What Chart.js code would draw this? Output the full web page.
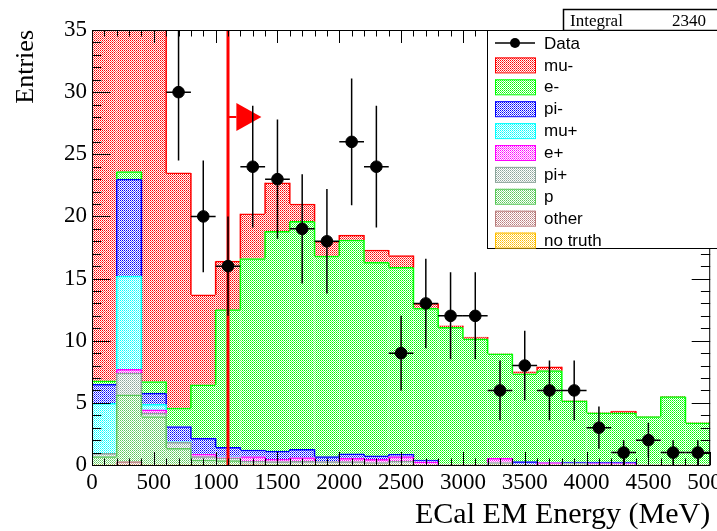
<!DOCTYPE html>
<html>
<head>
<meta charset="utf-8">
<script src="https://cdn.jsdelivr.net/npm/chart.js@4.4.1/dist/chart.umd.min.js"></script>
<style>
  body { margin: 0; background: #fff; }
  #wrap { width: 717px; height: 531px; position: relative; }
</style>
</head>
<body>
<div id="wrap"><canvas id="myChart"></canvas></div>
<script>
// 200 MeV bins, 0 - 5000 MeV
var binCentres = [100, 300, 500, 700, 900, 1100, 1300, 1500, 1700, 1900, 2100, 2300, 2500,
                  2700, 2900, 3100, 3300, 3500, 3700, 3900, 4100, 4300, 4500, 4700, 4900];
var binHalf = 100;

var dataCounts = [null, null, null, 30, 20, 16, 24, 23, 19, 18, 26, 24, 9, 13, 12, 12, 6, 8, 6, 6, 3, 1, 2, 1, 1];
var dataErrors = [null, null, null, 5.5, 4.5, 4, 4.9, 4.8, 4.4, 4.2, 5.1, 4.9, 3, 3.6, 3.5, 3.5, 2.4, 2.8, 2.4, 2.4, 1.7, 1, 1.4, 1, 1];

// MC truth components (stacked, bottom first)
var noTruth = [0, 0, 0, 0, 0, 0, 0, 0, 0, 0, 0, 0, 0, 0, 0, 0, 0, 0, 0, 0, 0, 0, 0, 0, 0];
var other   = [0, 0.27, 0, 0, 0, 0, 0.05, 0, 0, 0, 0, 0, 0, 0, 0, 0, 0, 0, 0, 0, 0, 0, 0, 0, 0];
var proton  = [0.67, 5.38, 3.9, 1.34, 0.4, 0.35, 0.05, 0.05, 0, 0, 0, 0, 0, 0, 0, 0, 0, 0, 0, 0, 0, 0, 0, 0, 0];
var piPlus  = [0.27, 1.75, 0.27, 0.48, 0.27, 0.2, 0.2, 0.22, 0.3, 0.27, 0.27, 0.2, 0.32, 0, 0, 0, 0.2, 0, 0, 0.12, 0, 0, 0, 0, 0];
var ePlus   = [0, 0.3, 0.26, 0.03, 0.19, 0.1, 0.37, 0.19, 0.29, 0, 0.27, 0.26, 0.35, 0.25, 0, 0, 0.34, 0, 0.19, 0, 0.12, 0.12, 0, 0, 0];
var muPlus  = [4.03, 7.5, 0.46, 0.05, 0, 0.05, 0, 0, 0, 0, 0, 0, 0, 0, 0, 0, 0, 0, 0, 0, 0, 0, 0, 0, 0];
var piMinus = [1.53, 7.8, 0.89, 1.2, 1.29, 0.72, 0.54, 0.67, 0.67, 0.4, 0.35, 0.27, 0.19, 0.15, 0, 0, 0, 0.27, 0, 0.12, 0.12, 0.12, 0, 0, 0];
var eMinus  = [0.27, 0.6, 0.94, 1.47, 4.3, 11.08, 15.4, 17.67, 18.34, 16.13, 17.21, 15.57, 15.04, 12.2, 11.07, 10.16, 8.41, 7.07, 7.41, 4.92, 3.96, 3.95, 3.9, 5.5, 3.4];
var muMinus = [40, 20, 40, 18.93, 7.25, 3.9, 3.6, 3.9, 1.4, 1.2, 0.4, 1.0, 0.95, 0.4, 0.13, 0.14, 0, 0.16, 0.3, 0, 0, 0.14, 0, 0, 0];

var cutValue = 1100;
var arrowY = 28;
var arrowEnd = 1370;

var canvas = document.getElementById('myChart');
var cctx = canvas.getContext('2d');

// ROOT-like dotted fill: checkerboard of colour (two shades) and white
function dots(color, light) {
  var c = document.createElement('canvas');
  c.width = 2; c.height = 2;
  var g = c.getContext('2d');
  g.fillStyle = '#fff';
  g.fillRect(0, 0, 2, 2);
  g.fillStyle = color;
  g.fillRect(0, 0, 1, 1);
  g.fillStyle = light;
  g.fillRect(1, 1, 1, 1);
  return cctx.createPattern(c, 'repeat');
}

var components = [
  { label: 'no truth', values: noTruth, color: 'rgb(255,190,0)',   light: 'rgb(255,215,90)' },
  { label: 'other',    values: other,   color: 'rgb(185,125,125)', light: 'rgb(210,165,165)' },
  { label: 'p',        values: proton,  color: 'rgb(90,200,90)',   light: 'rgb(140,220,140)' },
  { label: 'pi+',      values: piPlus,  color: 'rgb(140,165,155)', light: 'rgb(180,198,190)' },
  { label: 'e+',       values: ePlus,   color: 'rgb(255,0,255)',   light: 'rgb(255,90,255)' },
  { label: 'mu+',      values: muPlus,  color: 'rgb(0,255,255)',   light: 'rgb(90,255,255)' },
  { label: 'pi-',      values: piMinus, color: 'rgb(0,0,255)',     light: 'rgb(90,90,255)' },
  { label: 'e-',       values: eMinus,  color: 'rgb(0,255,0)',     light: 'rgb(90,255,90)' },
  { label: 'mu-',      values: muMinus, color: 'rgb(255,0,0)',     light: 'rgb(255,90,90)' }
];

var datasets = components.map(function(c) {
  return {
    type: 'bar',
    label: c.label,
    data: binCentres.map(function(x, i) { return { x: x, y: c.values[i] }; }),
    backgroundColor: dots(c.color, c.light),
    borderColor: c.color,
    borderWidth: { top: 1.5, left: 0, right: 0, bottom: 0 },
    borderSkipped: 'start',
    barPercentage: 1,
    categoryPercentage: 1,
    stack: 'mc'
  };
});

datasets.push({
  type: 'line',
  label: 'Data',
  data: binCentres.map(function(x, i) { return { x: x, y: dataCounts[i] }; }),
  showLine: false,
  pointRadius: 5.8,
  pointHoverRadius: 5.8,
  pointBackgroundColor: '#000',
  pointBorderColor: '#000',
  borderColor: '#000',
  stack: 'data',
  order: -1
});

// step outlines between bins, cut line, error bars: drawn just before the data markers
var errorBars = {
  id: 'errorBars',
  beforeDatasetDraw: function(chart, args) {
    if (chart.data.datasets[args.index].label !== 'Data') return;
    var g = chart.ctx, a = chart.chartArea;
    var xs = chart.scales.x, ys = chart.scales.y;
    g.save();
    g.beginPath();
    g.rect(a.left, a.top, a.right - a.left, a.bottom - a.top);
    g.clip();

    // vertical parts of each layer's step outline
    g.lineWidth = 1.5;
    chart.data.datasets.forEach(function(d, di) {
      if (d.type !== 'bar') return;
      var bars = chart.getDatasetMeta(di).data;
      g.strokeStyle = d.borderColor;
      g.beginPath();
      for (var i = 1; i < bars.length; i++) {
        var p = bars[i - 1], q = bars[i];
        var top = Math.min(p.y, q.y);
        var bot = Math.min(Math.max(p.y, q.y), p.base, q.base);
        if (bot - top > 0.5) {
          var ex = xs.getPixelForValue(binCentres[i] - binHalf);
          g.moveTo(ex, top); g.lineTo(ex, bot);
        }
      }
      g.stroke();
    });

    // cut line and arrow
    var cx = xs.getPixelForValue(cutValue);
    g.strokeStyle = 'rgb(255,0,0)';
    g.lineWidth = 3;
    g.beginPath();
    g.moveTo(cx, a.bottom);
    g.lineTo(cx, a.top);
    g.stroke();
    var ay = ys.getPixelForValue(arrowY);
    var tip = xs.getPixelForValue(arrowEnd);
    g.lineWidth = 2;
    g.beginPath();
    g.moveTo(cx, ay);
    g.lineTo(tip - 25, ay);
    g.stroke();
    g.fillStyle = 'rgb(255,0,0)';
    g.beginPath();
    g.moveTo(tip - 25, ay - 14);
    g.lineTo(tip, ay);
    g.lineTo(tip - 25, ay + 14);
    g.closePath();
    g.fill();

    g.strokeStyle = '#000';
    g.lineWidth = 1.5;
    binCentres.forEach(function(c, i) {
      var v = dataCounts[i];
      if (v === null) return;
      var px = xs.getPixelForValue(c), py = ys.getPixelForValue(v);
      g.beginPath();
      g.moveTo(xs.getPixelForValue(c - binHalf), py);
      g.lineTo(xs.getPixelForValue(c + binHalf), py);
      g.moveTo(px, ys.getPixelForValue(v + dataErrors[i]));
      g.lineTo(px, ys.getPixelForValue(Math.max(0, v - dataErrors[i])));
      g.stroke();
    });
    g.restore();
  }
};

// ROOT frame with inner ticks on all four sides
var rootFrame = {
  id: 'rootFrame',
  afterDatasetsDraw: function(chart) {
    var g = chart.ctx, a = chart.chartArea;
    var xs = chart.scales.x, ys = chart.scales.y;
    g.save();
    g.strokeStyle = '#000';
    g.lineWidth = 1;
    g.strokeRect(a.left + 0.5, a.top + 0.5, a.right - a.left - 1, a.bottom - a.top);
    g.beginPath();
    for (var v = 0; v <= xs.max; v += 100) {
      var px = Math.round(xs.getPixelForValue(v)) + 0.5;
      var len = (v % 500 === 0) ? 13 : 6.5;
      g.moveTo(px, a.bottom); g.lineTo(px, a.bottom - len);
      g.moveTo(px, a.top); g.lineTo(px, a.top + len);
    }
    for (var w = 0; w <= ys.max; w += 1) {
      var py = Math.round(ys.getPixelForValue(w)) + 0.5;
      var l2 = (w % 5 === 0) ? 18.5 : 9.3;
      g.moveTo(a.left, py); g.lineTo(a.left + l2, py);
      g.moveTo(a.right, py); g.lineTo(a.right - l2, py);
    }
    g.stroke();
    g.restore();
  }
};

// legend + stats box in the ROOT style
var rootLegend = {
  id: 'rootLegend',
  afterDraw: function(chart) {
    var g = chart.ctx;
    g.save();
    // stats box
    g.fillStyle = '#fff';
    g.fillRect(563, 9, 160, 21);
    g.strokeStyle = '#000';
    g.lineWidth = 1.5;
    g.strokeRect(563.5, 9.5, 160, 21);
    g.fillStyle = '#000';
    g.font = '17px "Liberation Serif"';
    g.textBaseline = 'alphabetic';
    g.textAlign = 'left';
    g.fillText('Integral', 570, 26);
    g.textAlign = 'right';
    g.fillText('2340', 706, 26);

    // legend box
    g.fillStyle = '#fff';
    g.fillRect(487, 31, 240, 217);
    g.lineWidth = 1;
    g.strokeRect(487.5, 30.5, 240, 218);

    var rowY = 43, step = 21.9;
    g.font = '17px "Liberation Sans"';
    g.textAlign = 'left';
    g.textBaseline = 'middle';
    // data entry
    g.strokeStyle = '#000';
    g.lineWidth = 1.5;
    g.beginPath();
    g.moveTo(495, rowY); g.lineTo(535, rowY);
    g.stroke();
    g.fillStyle = '#000';
    g.beginPath();
    g.arc(515, rowY, 5, 0, Math.PI * 2);
    g.fill();
    g.fillText('Data', 544, rowY + 1);

    var bars = chart.data.datasets.filter(function(d) { return d.type === 'bar'; }).reverse();
    bars.forEach(function(d, k) {
      var y = rowY + step * (k + 1);
      g.fillStyle = d.backgroundColor;
      g.fillRect(495, y - 7.5, 40, 15);
      g.strokeStyle = d.borderColor;
      g.lineWidth = 1;
      g.strokeRect(495.5, y - 7, 40, 15);
      g.fillStyle = '#000';
      g.fillText(d.label, 544, y + 1);
    });
    g.restore();
  }
};

Chart.defaults.font.family = '"Liberation Serif"';
Chart.defaults.color = '#000';

new Chart(canvas, {
  type: 'bar',
  data: { datasets: datasets },
  options: {
    responsive: true,
    maintainAspectRatio: false,
    animation: false,
    layout: { padding: { top: 30, right: 3, left: 0, bottom: 0 } },
    plugins: {
      legend: { display: false },
      tooltip: { enabled: false }
    },
    scales: {
      x: {
        type: 'linear',
        stacked: true,
        offset: false,
        min: 0,
        max: 5000,
        grid: { display: false, drawTicks: false, offset: false },
        border: { display: false },
        ticks: {
          stepSize: 500, autoSkip: false, maxRotation: 0, padding: 4, font: { size: 23 },
          callback: function(v) { return String(v); }
        },
        title: { display: true, text: 'ECal EM Energy (MeV)', align: 'end', font: { size: 30 }, padding: { top: 0, bottom: -2 } },
        afterFit: function(s) { s.height = 66; s.paddingLeft = 0; s.paddingRight = 0; }
      },
      y: {
        stacked: true,
        min: 0,
        max: 35,
        grid: { display: false, drawTicks: false },
        border: { display: false },
        ticks: { stepSize: 5, padding: 5, font: { size: 23 } },
        title: { display: true, text: 'Entries', align: 'end', font: { size: 26 }, padding: { top: 11, bottom: 0 } },
        afterFit: function(s) { s.width = 92; s.paddingTop = 0; s.paddingBottom = 0; }
      }
    }
  },
  plugins: [errorBars, rootFrame, rootLegend]
});
</script>
</body>
</html>
